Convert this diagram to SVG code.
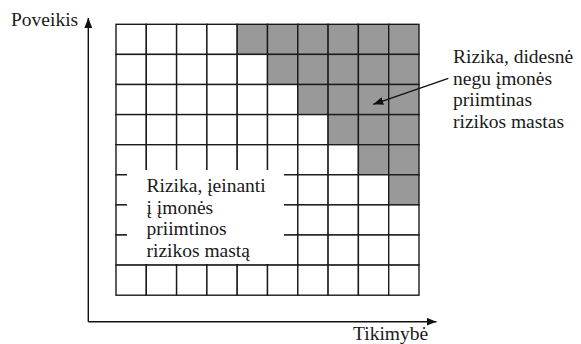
<svg xmlns="http://www.w3.org/2000/svg" width="581" height="344" viewBox="0 0 581 344">
  <defs>
    <marker id="tip" viewBox="0 0 10 8" refX="10" refY="4" markerWidth="10" markerHeight="8" markerUnits="userSpaceOnUse" orient="auto">
      <path d="M0,0 L10,4 L0,8 Z" fill="#111"/>
    </marker>
  </defs>
  <style>
    .cell { fill: #fff; stroke: #1a1a1a; stroke-width: 1.4; }
    .hot { fill: #999; stroke: #1a1a1a; stroke-width: 1.4; }
    .axis { stroke: #111; stroke-width: 1.4; fill: none; }
    .lbl { font-family: "Liberation Serif", "Times New Roman", serif; font-size: 19.5px; fill: #1a1a1a; }
  </style>

  <rect width="581" height="344" fill="#fff"/>

  <!-- axes -->
  <g id="axes">
    <path class="axis" d="M88.3,321.7 V18" marker-end="url(#tip)"/>
    <path class="axis" d="M88.3,321.7 H436.5" marker-end="url(#tip)"/>
    <text class="lbl" x="11" y="26">Poveikis</text>
    <text class="lbl" x="353" y="339.5">Tikimybė</text>
  </g>

  <!-- risk matrix: 10 columns x 9 rows -->
  <g id="matrix">
    <!-- row 0 -->
    <rect class="cell" x="116" y="24.3" width="30.3" height="30.1"/>
    <rect class="cell" x="146.3" y="24.3" width="30.3" height="30.1"/>
    <rect class="cell" x="176.6" y="24.3" width="30.3" height="30.1"/>
    <rect class="cell" x="206.9" y="24.3" width="30.3" height="30.1"/>
    <rect class="hot" x="237.2" y="24.3" width="30.3" height="30.1"/>
    <rect class="hot" x="267.5" y="24.3" width="30.3" height="30.1"/>
    <rect class="hot" x="297.8" y="24.3" width="30.3" height="30.1"/>
    <rect class="hot" x="328.1" y="24.3" width="30.3" height="30.1"/>
    <rect class="hot" x="358.4" y="24.3" width="30.3" height="30.1"/>
    <rect class="hot" x="388.7" y="24.3" width="30.3" height="30.1"/>
    <!-- row 1 -->
    <rect class="cell" x="116" y="54.4" width="30.3" height="30.1"/>
    <rect class="cell" x="146.3" y="54.4" width="30.3" height="30.1"/>
    <rect class="cell" x="176.6" y="54.4" width="30.3" height="30.1"/>
    <rect class="cell" x="206.9" y="54.4" width="30.3" height="30.1"/>
    <rect class="cell" x="237.2" y="54.4" width="30.3" height="30.1"/>
    <rect class="hot" x="267.5" y="54.4" width="30.3" height="30.1"/>
    <rect class="hot" x="297.8" y="54.4" width="30.3" height="30.1"/>
    <rect class="hot" x="328.1" y="54.4" width="30.3" height="30.1"/>
    <rect class="hot" x="358.4" y="54.4" width="30.3" height="30.1"/>
    <rect class="hot" x="388.7" y="54.4" width="30.3" height="30.1"/>
    <!-- row 2 -->
    <rect class="cell" x="116" y="84.5" width="30.3" height="30.1"/>
    <rect class="cell" x="146.3" y="84.5" width="30.3" height="30.1"/>
    <rect class="cell" x="176.6" y="84.5" width="30.3" height="30.1"/>
    <rect class="cell" x="206.9" y="84.5" width="30.3" height="30.1"/>
    <rect class="cell" x="237.2" y="84.5" width="30.3" height="30.1"/>
    <rect class="cell" x="267.5" y="84.5" width="30.3" height="30.1"/>
    <rect class="hot" x="297.8" y="84.5" width="30.3" height="30.1"/>
    <rect class="hot" x="328.1" y="84.5" width="30.3" height="30.1"/>
    <rect class="hot" x="358.4" y="84.5" width="30.3" height="30.1"/>
    <rect class="hot" x="388.7" y="84.5" width="30.3" height="30.1"/>
    <!-- row 3 -->
    <rect class="cell" x="116" y="114.6" width="30.3" height="30.1"/>
    <rect class="cell" x="146.3" y="114.6" width="30.3" height="30.1"/>
    <rect class="cell" x="176.6" y="114.6" width="30.3" height="30.1"/>
    <rect class="cell" x="206.9" y="114.6" width="30.3" height="30.1"/>
    <rect class="cell" x="237.2" y="114.6" width="30.3" height="30.1"/>
    <rect class="cell" x="267.5" y="114.6" width="30.3" height="30.1"/>
    <rect class="cell" x="297.8" y="114.6" width="30.3" height="30.1"/>
    <rect class="hot" x="328.1" y="114.6" width="30.3" height="30.1"/>
    <rect class="hot" x="358.4" y="114.6" width="30.3" height="30.1"/>
    <rect class="hot" x="388.7" y="114.6" width="30.3" height="30.1"/>
    <!-- row 4 -->
    <rect class="cell" x="116" y="144.7" width="30.3" height="30.1"/>
    <rect class="cell" x="146.3" y="144.7" width="30.3" height="30.1"/>
    <rect class="cell" x="176.6" y="144.7" width="30.3" height="30.1"/>
    <rect class="cell" x="206.9" y="144.7" width="30.3" height="30.1"/>
    <rect class="cell" x="237.2" y="144.7" width="30.3" height="30.1"/>
    <rect class="cell" x="267.5" y="144.7" width="30.3" height="30.1"/>
    <rect class="cell" x="297.8" y="144.7" width="30.3" height="30.1"/>
    <rect class="cell" x="328.1" y="144.7" width="30.3" height="30.1"/>
    <rect class="hot" x="358.4" y="144.7" width="30.3" height="30.1"/>
    <rect class="hot" x="388.7" y="144.7" width="30.3" height="30.1"/>
    <!-- row 5 -->
    <rect class="cell" x="116" y="174.8" width="30.3" height="30.1"/>
    <rect class="cell" x="146.3" y="174.8" width="30.3" height="30.1"/>
    <rect class="cell" x="176.6" y="174.8" width="30.3" height="30.1"/>
    <rect class="cell" x="206.9" y="174.8" width="30.3" height="30.1"/>
    <rect class="cell" x="237.2" y="174.8" width="30.3" height="30.1"/>
    <rect class="cell" x="267.5" y="174.8" width="30.3" height="30.1"/>
    <rect class="cell" x="297.8" y="174.8" width="30.3" height="30.1"/>
    <rect class="cell" x="328.1" y="174.8" width="30.3" height="30.1"/>
    <rect class="cell" x="358.4" y="174.8" width="30.3" height="30.1"/>
    <rect class="hot" x="388.7" y="174.8" width="30.3" height="30.1"/>
    <!-- rows 6-8 -->
    <rect class="cell" x="116" y="204.9" width="30.3" height="30.1"/>
    <rect class="cell" x="146.3" y="204.9" width="30.3" height="30.1"/>
    <rect class="cell" x="176.6" y="204.9" width="30.3" height="30.1"/>
    <rect class="cell" x="206.9" y="204.9" width="30.3" height="30.1"/>
    <rect class="cell" x="237.2" y="204.9" width="30.3" height="30.1"/>
    <rect class="cell" x="267.5" y="204.9" width="30.3" height="30.1"/>
    <rect class="cell" x="297.8" y="204.9" width="30.3" height="30.1"/>
    <rect class="cell" x="328.1" y="204.9" width="30.3" height="30.1"/>
    <rect class="cell" x="358.4" y="204.9" width="30.3" height="30.1"/>
    <rect class="cell" x="388.7" y="204.9" width="30.3" height="30.1"/>
    <rect class="cell" x="116" y="235" width="30.3" height="30.1"/>
    <rect class="cell" x="146.3" y="235" width="30.3" height="30.1"/>
    <rect class="cell" x="176.6" y="235" width="30.3" height="30.1"/>
    <rect class="cell" x="206.9" y="235" width="30.3" height="30.1"/>
    <rect class="cell" x="237.2" y="235" width="30.3" height="30.1"/>
    <rect class="cell" x="267.5" y="235" width="30.3" height="30.1"/>
    <rect class="cell" x="297.8" y="235" width="30.3" height="30.1"/>
    <rect class="cell" x="328.1" y="235" width="30.3" height="30.1"/>
    <rect class="cell" x="358.4" y="235" width="30.3" height="30.1"/>
    <rect class="cell" x="388.7" y="235" width="30.3" height="30.1"/>
    <rect class="cell" x="116" y="265.1" width="30.3" height="30.1"/>
    <rect class="cell" x="146.3" y="265.1" width="30.3" height="30.1"/>
    <rect class="cell" x="176.6" y="265.1" width="30.3" height="30.1"/>
    <rect class="cell" x="206.9" y="265.1" width="30.3" height="30.1"/>
    <rect class="cell" x="237.2" y="265.1" width="30.3" height="30.1"/>
    <rect class="cell" x="267.5" y="265.1" width="30.3" height="30.1"/>
    <rect class="cell" x="297.8" y="265.1" width="30.3" height="30.1"/>
    <rect class="cell" x="328.1" y="265.1" width="30.3" height="30.1"/>
    <rect class="cell" x="358.4" y="265.1" width="30.3" height="30.1"/>
    <rect class="cell" x="388.7" y="265.1" width="30.3" height="30.1"/>
  </g>

  <!-- acceptable-risk label, knocked out of the grid -->
  <g id="acceptable">
    <rect x="127" y="170" width="157" height="94" fill="#fff"/>
    <text class="lbl" x="146.5" y="192.3">Rizika, įeinanti</text>
    <text class="lbl" x="146.5" y="213.8">į įmonės</text>
    <text class="lbl" x="146.5" y="235.3">priimtinos</text>
    <text class="lbl" x="146.5" y="256.8">rizikos mastą</text>
  </g>

  <!-- excessive-risk label -->
  <g id="excessive">
    <text class="lbl" x="453" y="63">Rizika, didesnė</text>
    <text class="lbl" x="453" y="84.5">negu įmonės</text>
    <text class="lbl" x="453" y="106">priimtinas</text>
    <text class="lbl" x="453" y="127.5">rizikos mastas</text>
  </g>

  <g id="connectors">
    <path class="axis" d="M448.3,78.3 L373.3,104.3" marker-end="url(#tip)"/>
  </g>
</svg>
